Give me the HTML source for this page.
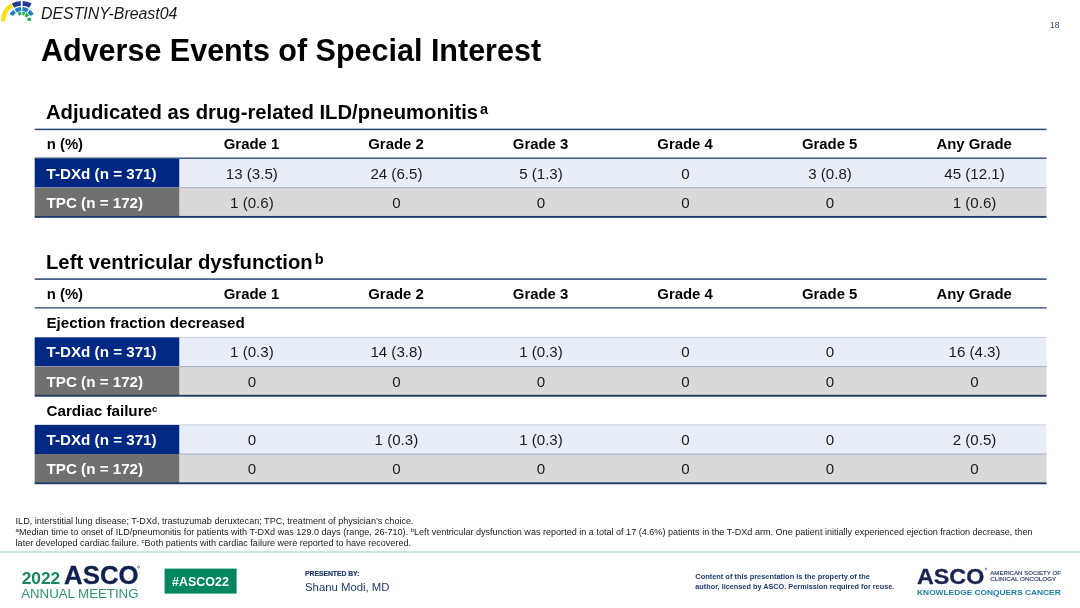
<!DOCTYPE html>
<html><head><meta charset="utf-8">
<style>
*{margin:0;padding:0;box-sizing:border-box}
html,body{width:1080px;height:608px;overflow:hidden;background:#fff}
body{font-family:"Liberation Sans",sans-serif;color:#000;position:relative}
.abs{position:absolute;white-space:nowrap}
#study{left:41.1px;top:4px;font-size:15.85px;font-style:italic;color:#1a1a1a;line-height:20px}
#title{left:41px;top:32px;font-size:30.5px;font-weight:bold;line-height:36px;color:#000}
#pgnum{left:1050px;top:20px;font-size:8.5px;color:#2f4a7a;line-height:10px}
.sec{font-size:20.25px;font-weight:bold;line-height:24px;left:46px}
.sec sup{font-size:14.5px;vertical-align:baseline;position:relative;top:-5px;margin-left:2px;line-height:0}
.row{position:absolute;left:34.7px;width:1011.80px;height:29.17px;display:flex}
.row div{width:144.543px;height:29.17px;line-height:29.17px;text-align:center;font-size:15.1px;color:#1a1a1a;position:relative;top:0.1px;padding-left:0.8px}
.row div:first-child{text-align:left;padding-left:11.8px;font-weight:bold;font-size:15.2px}
.hdr div:first-child{font-size:14.9px;top:1px;padding-left:12px}
.hdr div{font-weight:bold;color:#000;font-size:14.9px;position:relative;top:1px;padding-left:0}
.b div:first-child{color:#fff}
.g div:first-child{color:#fff}
.sub div:first-child{width:600px;color:#000}
sup.s{font-size:9.5px;vertical-align:baseline;position:relative;top:-4px}
#fn{left:15.6px;top:516px;font-size:9.07px;line-height:10.75px;color:#1a1a1a;white-space:nowrap}
sup.f{font-size:6px;line-height:0;vertical-align:baseline;position:relative;top:-3px}
#fline{position:absolute;left:0;top:551px;width:1080px;height:2px;background:#cfe3df}
#wrap{position:absolute;left:0;top:0;width:1080px;height:608px;will-change:transform;opacity:0.999}
</style></head><body><div id="wrap">
<svg class="abs" style="left:0;top:0" width="46" height="26" viewBox="0 0 46 26"><path d="M1.00 21.36A20.7 20.7 0 0 1 10.88 3.35L13.18 7.10A16.3 16.3 0 0 0 5.40 21.28Z" fill="#f5e01a"/><path d="M11.80 3.51A20.1 20.1 0 0 1 20.65 0.93L20.90 5.82A15.2 15.2 0 0 0 14.22 7.77Z" fill="#1f3a93"/><path d="M22.75 0.93A20.1 20.1 0 0 1 31.60 3.51L29.18 7.77A15.2 15.2 0 0 0 22.50 5.82Z" fill="#1f3a93"/><path d="M9.66 14.05A13.9 13.9 0 0 1 13.53 9.75L15.82 12.91A10.0 10.0 0 0 0 13.04 16.00Z" fill="#1c80c8"/><path d="M14.65 9.02A13.9 13.9 0 0 1 20.97 7.12L21.18 11.01A10.0 10.0 0 0 0 16.62 12.38Z" fill="#1c80c8"/><path d="M22.43 7.12A13.9 13.9 0 0 1 28.75 9.02L26.78 12.38A10.0 10.0 0 0 0 22.22 11.01Z" fill="#1c80c8"/><path d="M29.87 9.75A13.9 13.9 0 0 1 33.74 14.05L30.36 16.00A10.0 10.0 0 0 0 27.58 12.91Z" fill="#1c80c8"/><path d="M17.77 12.57A9.3 9.3 0 0 1 21.21 11.71L21.39 15.11A5.9 5.9 0 0 0 19.21 15.65Z" fill="#1fae4b"/><path d="M22.51 11.74A9.3 9.3 0 0 1 25.33 12.44L24.01 15.57A5.9 5.9 0 0 0 22.21 15.12Z" fill="#1fae4b"/><path d="M26.49 13.03A9.3 9.3 0 0 1 29.13 15.40L26.41 17.45A5.9 5.9 0 0 0 24.74 15.94Z" fill="#1fae4b"/><path d="M30.20 17.22A9.3 9.3 0 0 1 31.00 20.84L27.60 20.90A5.9 5.9 0 0 0 27.09 18.60Z" fill="#1fae4b"/></svg>
<div id="study" class="abs">DESTINY-Breast04</div>
<div id="title" class="abs">Adverse Events of Special Interest</div>
<div id="pgnum" class="abs">18</div>

<div class="abs sec" style="top:100px">Adjudicated as drug-related ILD/pneumonitis<sup>a</sup></div>
<svg class="abs" style="left:0;top:0" width="1080" height="500" viewBox="0 0 1080 500"><rect x="34.7" y="158.47" width="1011.80" height="29.17" fill="#e9edf7"/>
<rect x="34.7" y="158.47" width="144.54" height="29.17" fill="#002883"/>
<rect x="179.24" y="158.07" width="867.26" height="0.9" fill="#c3cbdb"/>
<rect x="34.7" y="187.64" width="1011.80" height="29.17" fill="#d9d9d9"/>
<rect x="34.7" y="187.64" width="144.54" height="29.17" fill="#707070"/>
<rect x="179.24" y="187.14" width="867.26" height="1.1" fill="#a9b4c7"/>
<rect x="34.7" y="128.65" width="1011.80" height="1.5" fill="#274877"/>
<rect x="34.7" y="157.52" width="1011.80" height="1.3" fill="#274877"/>
<rect x="34.7" y="215.96" width="1011.80" height="1.9" fill="#1f3c69"/>
<rect x="34.7" y="337.34" width="1011.80" height="29.17" fill="#e9edf7"/>
<rect x="34.7" y="337.34" width="144.54" height="29.17" fill="#002883"/>
<rect x="179.24" y="336.94" width="867.26" height="0.9" fill="#c3cbdb"/>
<rect x="34.7" y="366.51" width="1011.80" height="29.17" fill="#d9d9d9"/>
<rect x="34.7" y="366.51" width="144.54" height="29.17" fill="#707070"/>
<rect x="179.24" y="366.01" width="867.26" height="1.1" fill="#a9b4c7"/>
<rect x="34.7" y="424.85" width="1011.80" height="29.17" fill="#e9edf7"/>
<rect x="34.7" y="424.85" width="144.54" height="29.17" fill="#002883"/>
<rect x="179.24" y="424.45" width="867.26" height="0.9" fill="#c3cbdb"/>
<rect x="34.7" y="454.02" width="1011.80" height="29.17" fill="#d9d9d9"/>
<rect x="34.7" y="454.02" width="144.54" height="29.17" fill="#707070"/>
<rect x="179.24" y="453.52" width="867.26" height="1.1" fill="#a9b4c7"/>
<rect x="34.7" y="278.35" width="1011.80" height="1.5" fill="#274877"/>
<rect x="34.7" y="307.22" width="1011.80" height="1.3" fill="#274877"/>
<rect x="34.7" y="394.83" width="1011.80" height="1.9" fill="#1f3c69"/>
<rect x="34.7" y="482.34" width="1011.80" height="1.9" fill="#1f3c69"/></svg>
<div class="row hdr" style="top:129.30px"><div>n (%)</div><div>Grade 1</div><div>Grade 2</div><div>Grade 3</div><div>Grade 4</div><div>Grade 5</div><div>Any Grade</div></div>
<div class="row b" style="top:158.47px"><div>T-DXd (n = 371)</div><div>13 (3.5)</div><div>24 (6.5)</div><div>5 (1.3)</div><div>0</div><div>3 (0.8)</div><div>45 (12.1)</div></div>
<div class="row g" style="top:187.64px"><div>TPC (n = 172)</div><div>1 (0.6)</div><div>0</div><div>0</div><div>0</div><div>0</div><div>1 (0.6)</div></div>

<div class="abs sec" style="top:250px">Left ventricular dysfunction<sup>b</sup></div>
<div class="row hdr" style="top:279.00px"><div>n (%)</div><div>Grade 1</div><div>Grade 2</div><div>Grade 3</div><div>Grade 4</div><div>Grade 5</div><div>Any Grade</div></div>
<div class="row sub" style="top:308.17px"><div>Ejection fraction decreased</div></div>
<div class="row b" style="top:337.34px"><div>T-DXd (n = 371)</div><div>1 (0.3)</div><div>14 (3.8)</div><div>1 (0.3)</div><div>0</div><div>0</div><div>16 (4.3)</div></div>
<div class="row g" style="top:366.51px"><div>TPC (n = 172)</div><div>0</div><div>0</div><div>0</div><div>0</div><div>0</div><div>0</div></div>
<div class="row sub" style="top:395.68px"><div>Cardiac failure<sup class="s">c</sup></div></div>
<div class="row b" style="top:424.85px"><div>T-DXd (n = 371)</div><div>0</div><div>1 (0.3)</div><div>1 (0.3)</div><div>0</div><div>0</div><div>2 (0.5)</div></div>
<div class="row g" style="top:454.02px"><div>TPC (n = 172)</div><div>0</div><div>0</div><div>0</div><div>0</div><div>0</div><div>0</div></div>

<div id="fn" class="abs">ILD, interstitial lung disease; T-DXd, trastuzumab deruxtecan; TPC, treatment of physician’s choice.<br><sup class="f">a</sup>Median time to onset of ILD/pneumonitis for patients with T-DXd was 129.0 days (range, 26-710). <sup class="f">b</sup>Left ventricular dysfunction was reported in a total of 17 (4.6%) patients in the T-DXd arm. One patient initially experienced ejection fraction decrease, then<br>later developed cardiac failure. <sup class="f">c</sup>Both patients with cardiac failure were reported to have recovered.</div>
<div id="fline"></div>
<svg class="abs" style="left:0;top:555px" width="1080" height="53" viewBox="0 555 1080 53" font-family="Liberation Sans, sans-serif">
 <text x="21.7" y="583.8" font-size="16.6" font-weight="bold" fill="#16875f" textLength="38.5" lengthAdjust="spacingAndGlyphs">2022</text>
 <text x="64.1" y="583.8" font-size="25.3" font-weight="bold" fill="#0f2150" stroke="#0f2150" stroke-width="0.3" textLength="74.6" lengthAdjust="spacingAndGlyphs">ASCO</text>
 <circle cx="138.6" cy="567" r="1" fill="none" stroke="#0f2150" stroke-width="0.5"/>
 <text x="21.2" y="597.8" font-size="12.3" fill="#2c9570" textLength="117.3" lengthAdjust="spacingAndGlyphs">ANNUAL MEETING</text>
 <rect x="164.6" y="568.6" width="72" height="25" fill="#00875f"/>
 <text x="172" y="585.9" font-size="12.7" font-weight="bold" fill="#fff" textLength="57" lengthAdjust="spacingAndGlyphs">#ASCO22</text>
 <text x="305" y="575.6" font-size="7" font-weight="bold" fill="#1f3a6e" stroke="#1f3a6e" stroke-width="0.2" textLength="54.4" lengthAdjust="spacingAndGlyphs">PRESENTED BY:</text>
 <text x="305" y="590.9" font-size="11.25" fill="#1f3a6e" textLength="84.5" lengthAdjust="spacingAndGlyphs">Shanu Modi, MD</text>
 <text x="695.3" y="579.3" font-size="7.5" font-weight="bold" fill="#1f3a6e" textLength="174.7" lengthAdjust="spacingAndGlyphs">Content of this presentation is the property of the</text>
 <text x="695.3" y="589.1" font-size="7.5" font-weight="bold" fill="#1f3a6e" textLength="199" lengthAdjust="spacingAndGlyphs">author, licensed by ASCO. Permission required for reuse.</text>
 <text x="917" y="584" font-size="22.2" font-weight="bold" fill="#18234f" stroke="#18234f" stroke-width="0.3" textLength="67.3" lengthAdjust="spacingAndGlyphs">ASCO</text>
 <circle cx="986" cy="569" r="0.9" fill="none" stroke="#18234f" stroke-width="0.5"/>
 <text x="990.3" y="574.7" font-size="5.6" fill="#2c3a66" stroke="#2c3a66" stroke-width="0.15" textLength="70.6" lengthAdjust="spacingAndGlyphs">AMERICAN SOCIETY OF</text>
 <text x="990.3" y="581.3" font-size="5.6" fill="#2c3a66" stroke="#2c3a66" stroke-width="0.15" textLength="66" lengthAdjust="spacingAndGlyphs">CLINICAL ONCOLOGY</text>
 <text x="917.1" y="595.4" font-size="7.6" font-weight="bold" fill="#1b80aa" textLength="143.6" lengthAdjust="spacingAndGlyphs">KNOWLEDGE CONQUERS CANCER</text>
</svg>

</div></body></html>
